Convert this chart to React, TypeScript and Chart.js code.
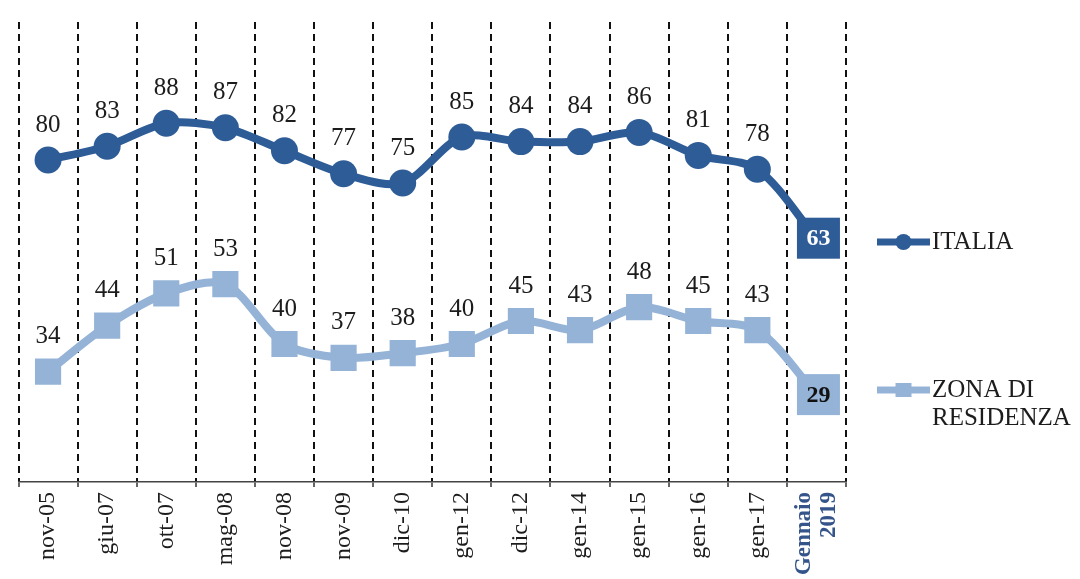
import React, { useEffect, useRef } from "react";
import { Chart, registerables } from "chart.js";

Chart.register(...registerables);

// Survey waves (x axis)
const periods: (string | string[])[] = [
  "nov-05",
  "giu-07",
  "ott-07",
  "mag-08",
  "nov-08",
  "nov-09",
  "dic-10",
  "gen-12",
  "dic-12",
  "gen-14",
  "gen-15",
  "gen-16",
  "gen-17",
  ["Gennaio", "2019"],
];

// Series values (%)
const italia = [80, 83, 88, 87, 82, 77, 75, 85, 84, 84, 86, 81, 78, 63];
const zonaResidenza = [34, 44, 51, 53, 40, 37, 38, 40, 45, 43, 48, 45, 43, 29];

// Legend captions (one entry per series, split into lines)
const legendCaptions: string[][] = [["ITALIA"], ["ZONA DI", "RESIDENZA"]];

const DARK = "#2E5C97";
const LIGHT = "#95B3D7";
const TEXT = "#1c1c1c";
const HIGHLIGHT_TICK = "#34548A";
const SERIF = "'Liberation Serif', 'Times New Roman', serif";

// Value labels above each point; the latest wave gets a filled box
const valueLabels = {
  id: "valueLabels",
  afterDatasetsDraw(chart: any) {
    const ctx: CanvasRenderingContext2D = chart.ctx;
    chart.data.datasets.forEach((ds: any, di: number) => {
      const meta = chart.getDatasetMeta(di);
      const last = meta.data.length - 1;
      meta.data.forEach((pt: any, i: number) => {
        const v = ds.data[i];
        ctx.save();
        ctx.textAlign = "center";
        ctx.textBaseline = "middle";
        if (i === last) {
          const w = 43;
          const h = 41;
          ctx.fillStyle = ds.borderColor;
          ctx.fillRect(pt.x - w / 2 + 2, pt.y - h / 2, w, h);
          ctx.font = `bold 24px ${SERIF}`;
          ctx.fillStyle = di === 0 ? "#ffffff" : "#111111";
          ctx.fillText(String(v), pt.x + 2, pt.y + 1);
        } else {
          ctx.font = `25px ${SERIF}`;
          ctx.fillStyle = TEXT;
          ctx.fillText(String(v), pt.x, pt.y - 35);
        }
        ctx.restore();
      });
    });
  },
};

// Rotated multi-line tick labels are centred on their tick
const centerMultilineTicks = {
  id: "centerMultilineTicks",
  beforeDraw(chart: any) {
    const scale = chart.scales.x;
    const items = scale.getLabelItems();
    items.forEach((item: any) => {
      const lines = Array.isArray(item.label) ? item.label.length : 1;
      if (lines > 1 && !item._centered) {
        item.options.translation[0] -= ((lines - 1) * item.font.lineHeight) / 2;
        item._centered = true;
      }
    });
  },
};

// Legend on the right: line + marker, then the caption
const sideLegend = {
  id: "sideLegend",
  afterDraw(chart: any) {
    const ctx: CanvasRenderingContext2D = chart.ctx;
    const x0 = chart.chartArea.right + 31;
    const lineLen = 53;
    const rowsY = [242, 390];
    chart.data.datasets.forEach((ds: any, di: number) => {
      const y = rowsY[di];
      ctx.save();
      ctx.strokeStyle = ds.borderColor;
      ctx.lineWidth = 7;
      ctx.beginPath();
      ctx.moveTo(x0, y);
      ctx.lineTo(x0 + lineLen, y);
      ctx.stroke();
      ctx.fillStyle = ds.borderColor;
      const cx = x0 + lineLen / 2;
      if (ds.pointStyle === "rect") {
        ctx.fillRect(cx - 8, y - 7, 16, 14);
      } else {
        ctx.beginPath();
        ctx.arc(cx, y, 8, 0, Math.PI * 2);
        ctx.fill();
      }
      ctx.font = `25px ${SERIF}`;
      ctx.fillStyle = TEXT;
      ctx.textAlign = "left";
      ctx.textBaseline = "middle";
      legendCaptions[di].forEach((line, li) => {
        ctx.fillText(line, x0 + lineLen + 2, y + li * 28);
      });
      ctx.restore();
    });
  },
};

export default function App() {
  const canvasRef = useRef<HTMLCanvasElement>(null);

  useEffect(() => {
    document.body.style.margin = "0";
    const canvas = canvasRef.current;
    if (!canvas) return;
    const lastIndex = periods.length - 1;

    const chart = new Chart(canvas, {
      type: "line",
      data: {
        labels: periods as any,
        datasets: [
          {
            label: "ITALIA",
            data: italia,
            borderColor: DARK,
            backgroundColor: DARK,
            borderWidth: 8,
            pointStyle: "circle",
            pointRadius: 13.5,
            pointBorderWidth: 0,
            pointBackgroundColor: DARK,
            tension: 0.3,
          },
          {
            label: "ZONA DI RESIDENZA",
            data: zonaResidenza,
            borderColor: LIGHT,
            backgroundColor: LIGHT,
            borderWidth: 8,
            pointStyle: "rect",
            pointRadius: 18.5,
            pointBorderWidth: 0,
            pointBackgroundColor: LIGHT,
            tension: 0.3,
          },
        ],
      },
      options: {
        responsive: false,
        animation: false,
        devicePixelRatio: 1,
        layout: { padding: { left: 15, right: 234, top: 22, bottom: 0 } },
        plugins: {
          legend: { display: false },
          tooltip: { enabled: false },
        },
        scales: {
          x: {
            offset: true,
            grid: {
              offset: true,
              color: "#111111",
              lineWidth: 2,
              drawTicks: true,
              tickLength: 5,
              tickColor: "#333",
              tickWidth: 1.5,
            },
            border: { display: true, color: "#444", width: 1.5, dash: [7, 5] },
            ticks: {
              autoSkip: false,
              minRotation: 90,
              maxRotation: 90,
              padding: 5,
              color: (c: any) => (c.index === lastIndex ? HIGHLIGHT_TICK : TEXT),
              font: (c: any) =>
                c.index === lastIndex
                  ? { family: SERIF, size: 23, weight: "bold", lineHeight: 1.1 }
                  : { family: SERIF, size: 24, lineHeight: 1.1 },
            },
            afterFit: (s: any) => {
              s.height = 97;
            },
          },
          y: { display: false, min: 10, max: 110 },
        },
      } as any,
      plugins: [valueLabels, centerMultilineTicks, sideLegend],
    });

    return () => chart.destroy();
  }, []);

  return (
    <div style={{ position: "absolute", left: 0, top: 0, width: 1080, height: 579, background: "#ffffff" }}>
      <canvas ref={canvasRef} width={1080} height={579} style={{ display: "block", width: 1080, height: 579 }} />
    </div>
  );
}
